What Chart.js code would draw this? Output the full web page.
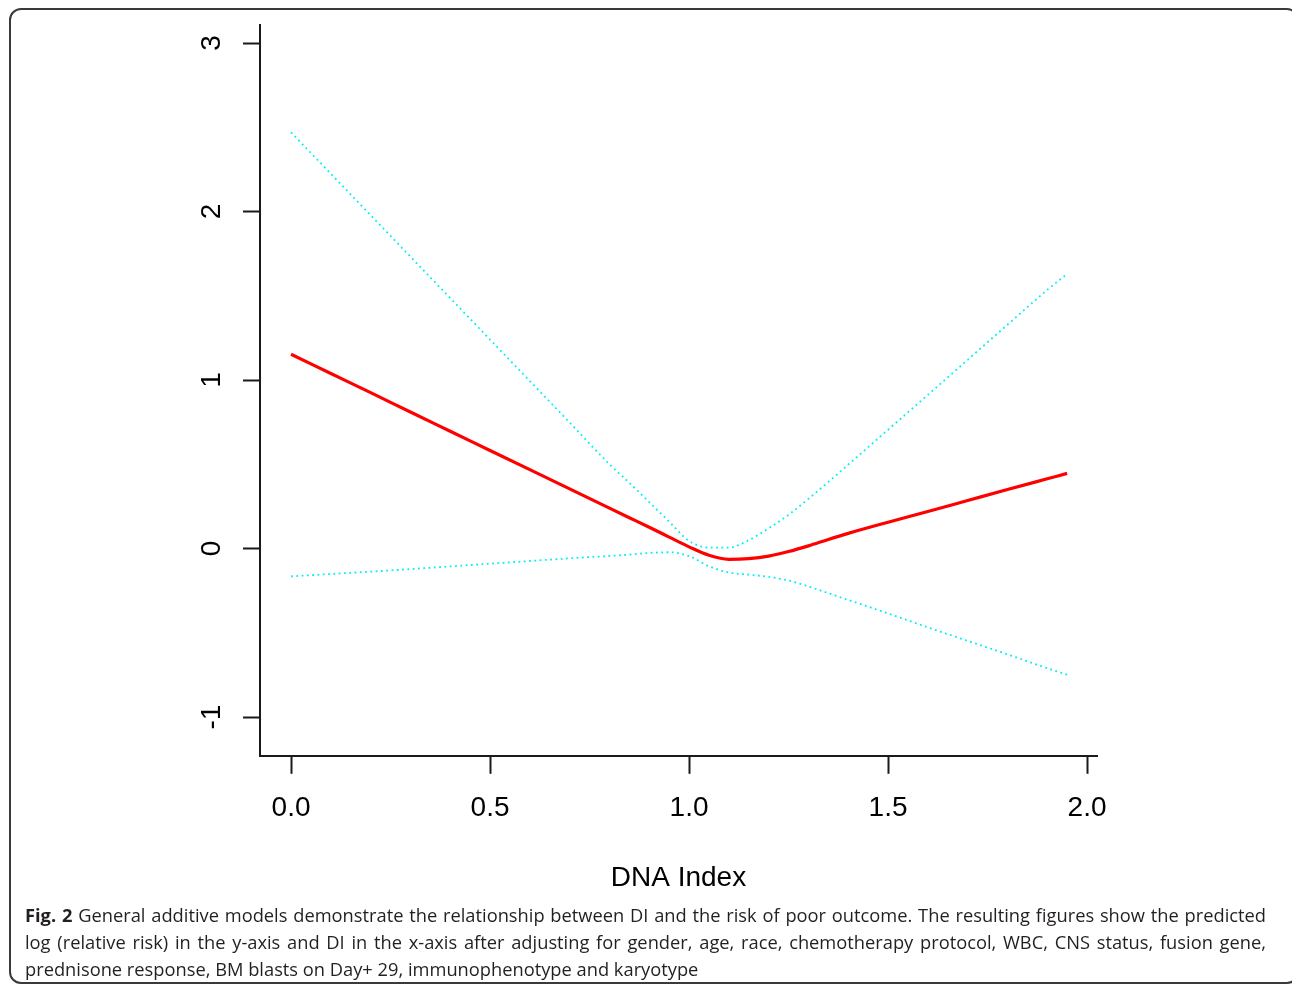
<!DOCTYPE html>
<html>
<head>
<meta charset="utf-8">
<script src="https://cdn.jsdelivr.net/npm/chart.js@4/dist/chart.umd.min.js"></script>
<style>
  html, body { margin: 0; padding: 0; background: #fff; }
  #wrap { position: relative; width: 1292px; height: 987px; overflow: hidden; }
  #c { position: absolute; left: 0; top: 0; }
  #frame { position: absolute; left: 9px; top: 8px; width: 1290px; height: 976px;
           border: 2px solid #3a3a3a; border-radius: 12px; box-sizing: border-box; pointer-events: none; }
  .cap { position: absolute; left: 25px; width: 1241px; font-family: "Open Sans", sans-serif; font-size: 18.3px;
         color: #231f20; white-space: nowrap; line-height: 27px; }
  .cap.j { text-align: justify; text-align-last: justify; white-space: normal; }
  .cap b { font-weight: 700; }
</style>
</head>
<body>
<div id="wrap">
  <canvas id="c" width="1292" height="987"></canvas>
  <div id="frame"></div>
  <div class="cap j" style="top:901px"><b>Fig. 2</b> General additive models demonstrate the relationship between DI and the risk of poor outcome. The resulting figures show the predicted</div>
  <div class="cap j" style="top:928px">log (relative risk) in the y-axis and DI in the x-axis after adjusting for gender, age, race, chemotherapy protocol, WBC, CNS status, fusion gene,</div>
  <div class="cap" style="top:955px">prednisone response, BM blasts on Day+ 29, immunophenotype and karyotype</div>
</div>
<script>
// ---- data ----
const dnaIndex = [0, 0.1, 0.2, 0.3, 0.4, 0.5, 0.6, 0.7, 0.8, 0.85, 0.9, 0.95, 1.0, 1.05, 1.1, 1.15, 1.2, 1.25, 1.3, 1.35, 1.4, 1.5, 1.6, 1.7, 1.8, 1.9, 1.95];
const logRR    = [1.153, 1.039, 0.925, 0.810, 0.696, 0.582, 0.468, 0.354, 0.240, 0.183, 0.126, 0.068, 0.010, -0.040, -0.064, -0.060, -0.045, -0.018, 0.016, 0.054, 0.090, 0.156, 0.220, 0.285, 0.350, 0.414, 0.446];
const upperCI  = [2.470, 2.224, 1.978, 1.732, 1.486, 1.240, 0.994, 0.748, 0.500, 0.390, 0.275, 0.160, 0.045, 0.006, 0.006, 0.050, 0.120, 0.200, 0.295, 0.395, 0.498, 0.705, 0.912, 1.120, 1.328, 1.535, 1.630];
const lowerCI  = [-0.165, -0.151, -0.137, -0.122, -0.106, -0.090, -0.074, -0.058, -0.044, -0.036, -0.026, -0.022, -0.045, -0.105, -0.142, -0.155, -0.168, -0.190, -0.225, -0.265, -0.305, -0.385, -0.468, -0.548, -0.628, -0.710, -0.749];
const xTicks = [0, 0.5, 1, 1.5, 2];
const xTickLabels = ['0.0', '0.5', '1.0', '1.5', '2.0'];
const yTicks = [-1, 0, 1, 2, 3];
const yTickLabels = ['-1', '0', '1', '2', '3'];
const xTitle = 'DNA Index';

const pts = (ys) => dnaIndex.map((x, i) => ({ x: x, y: ys[i] }));
const AX_FONT = { family: '"Liberation Sans", Arial, Helvetica, sans-serif', size: 28 };

const yLabelPlugin = {
  id: 'yLabels',
  afterDraw(chart) {
    const ctx = chart.ctx;
    const ys = chart.scales.y;
    ctx.save();
    ctx.fillStyle = '#000';
    ctx.font = '28px "Liberation Sans", Arial, sans-serif';
    ctx.textAlign = 'center';
    ctx.textBaseline = 'middle';
    yTicks.forEach((v, i) => {
      const py = ys.getPixelForValue(v);
      ctx.save();
      ctx.translate(212, py);
      ctx.rotate(-Math.PI / 2);
      ctx.fillText(yTickLabels[i], 0, 0);
      ctx.restore();
    });
    ctx.restore();
  }
};

new Chart(document.getElementById('c'), {
  type: 'line',
  data: {
    datasets: [
      { data: pts(logRR), borderColor: '#ff0000', borderWidth: 3.2, pointRadius: 0, cubicInterpolationMode: 'monotone', fill: false },
      { data: pts(upperCI), borderColor: '#00f0f0', borderWidth: 1.8, borderDash: [1.8, 3.5], pointRadius: 0, cubicInterpolationMode: 'monotone', fill: false },
      { data: pts(lowerCI), borderColor: '#00f0f0', borderWidth: 1.8, borderDash: [1.8, 3.5], pointRadius: 0, cubicInterpolationMode: 'monotone', fill: false }
    ]
  },
  options: {
    responsive: false,
    animation: false,
    devicePixelRatio: 1,
    layout: { padding: { left: 243, top: 25, right: 195, bottom: 92 } },
    plugins: { legend: { display: false }, tooltip: { enabled: false }, title: { display: false } },
    scales: {
      x: {
        type: 'linear',
        min: -0.078, max: 2.025,
        afterBuildTicks: (s) => { s.ticks = xTicks.map(v => ({ value: v })); },
        grid: { display: true, drawOnChartArea: false, drawTicks: true, tickLength: 18, tickWidth: 2, tickColor: '#1a1a1a' },
        border: { display: true, color: '#1a1a1a', width: 2 },
        ticks: {
          color: '#000', font: AX_FONT, padding: 18, maxRotation: 0, minRotation: 0, autoSkip: false,
          callback: (v) => { const i = xTicks.indexOf(v); return i >= 0 ? xTickLabels[i] : ''; }
        },
        title: { display: true, text: xTitle, color: '#000', font: AX_FONT, padding: { top: 18, bottom: 0 } }
      },
      y: {
        type: 'linear',
        min: -1.23, max: 3.107,
        afterBuildTicks: (s) => { s.ticks = yTicks.map(v => ({ value: v })); },
        grid: { display: true, drawOnChartArea: false, drawTicks: true, tickLength: 17, tickWidth: 2, tickColor: '#1a1a1a' },
        border: { display: true, color: '#1a1a1a', width: 2 },
        ticks: { display: false }
      }
    }
  },
  plugins: [yLabelPlugin]
});
</script>
</body>
</html>
